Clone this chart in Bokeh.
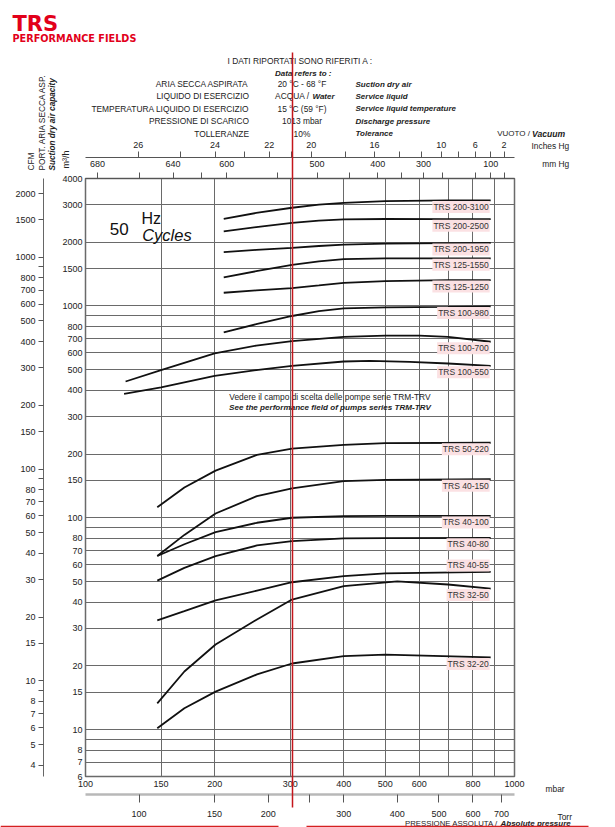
from math import pi
from bokeh.plotting import figure
from bokeh.models import (Range1d, LogScale, LogAxis, FixedTicker,
                          PrintfTickFormatter, CustomJSTickFormatter, Label)
from bokeh.core.properties import value
from bokeh.embed import file_html
from bokeh.resources import INLINE

# ------------------------------------------------------------------ data
# absolute pressure (mbar) sample points
MBAR_A = [210, 250, 303, 350, 400, 500, 700, 880]
MBAR_B = [124, 150, 200, 250, 303, 400, 500, 600, 700, 880]
MBAR_C = [123, 150, 200, 250, 303, 400, 460, 570, 700, 880]
MBAR_D = [147, 170, 201, 251, 303, 400, 500, 880]
MBAR_E = [147, 170, 201, 251, 303, 400, 533, 700, 880]

# suction capacity (m3/h)
trs_200_3100 = [2580, 2750, 2910, 3010, 3070, 3130, 3150, 3150]
trs_200_2500 = [2250, 2360, 2470, 2530, 2565, 2575, 2570, 2570]
trs_200_1950 = [1795, 1840, 1880, 1920, 1950, 1970, 1980, 1985]
trs_125_1550 = [1365, 1460, 1565, 1625, 1665, 1680, 1680, 1680]
trs_125_1250 = [1155, 1185, 1215, 1250, 1285, 1310, 1325, 1325]
trs_100_980 = [750, 820, 897, 945, 975, 985, 990, 995]
trs_100_700 = [440, 498, 597, 650, 683, 715, 725, 725, 715, 678]
trs_100_550 = [385, 413, 468, 498, 522, 547, 551, 545, 535, 522]
trs_50_220 = [112, 139, 167, 198, 212, 221, 225, 226]
trs_40_150 = [66, 83, 104.7, 126.6, 137.7, 149, 151, 152]
trs_40_100 = [66, 75, 85.6, 94.7, 100, 101.9, 102, 102]
trs_40_80 = [50.5, 58, 65.9, 74, 77.6, 79.9, 80.2, 80.4]
trs_40_55 = [32.8, 36.2, 40.7, 45.3, 49.6, 53, 54.6, 55.5]
trs_32_50 = [13.3, 18.8, 25.2, 33.1, 41.1, 47.5, 50.1, 48.4, 46.3]
trs_32_20 = [10.15, 12.6, 15.1, 18.2, 20.5, 22.2, 22.6, 21.9]

CURVE_NAMES = ["TRS 200-3100", "TRS 200-2500", "TRS 200-1950", "TRS 125-1550",
               "TRS 125-1250", "TRS 100-980", "TRS 100-700", "TRS 100-550",
               "TRS 50-220", "TRS 40-150", "TRS 40-100", "TRS 40-80",
               "TRS 40-55", "TRS 32-50", "TRS 32-20"]
CURVE_X = [MBAR_A, MBAR_A, MBAR_A, MBAR_A, MBAR_A, MBAR_A, MBAR_B, MBAR_C,
           MBAR_D, MBAR_D, MBAR_D, MBAR_D, MBAR_D, MBAR_E, MBAR_D]
CURVE_Y = [trs_200_3100, trs_200_2500, trs_200_1950, trs_125_1550, trs_125_1250,
           trs_100_980, trs_100_700, trs_100_550, trs_50_220, trs_40_150,
           trs_40_100, trs_40_80, trs_40_55, trs_32_50, trs_32_20]
LABEL_SIDE = [-1, -1, -1, -1, -1, -1, -1, -1, -1, -1, -1, -1, 1, -1, -1]

# axis ticks
MBAR_TICKS = [100, 150, 200, 300, 400, 500, 600, 800, 1000]
MBAR_GRID = [150, 200, 300, 400, 500, 600, 700, 800, 900]
M3H_TICKS = [4000, 3000, 2000, 1500, 1000, 800, 700, 600, 500, 400, 300, 200, 150,
             100, 80, 70, 60, 50, 40, 30, 20, 15, 10, 8, 7, 6]
M3H_GRID = [3000, 2000, 1500, 1000, 900, 800, 700, 600, 500, 400, 300, 200, 150,
            100, 90, 80, 70, 60, 50, 40, 30, 20, 15, 10, 9, 8, 7]
CFM_TICKS = [2000, 1500, 1000, 800, 700, 600, 500, 400, 300, 200, 150, 100, 80, 70,
             60, 50, 40, 30, 20, 15, 10, 8, 7, 6, 5, 4]
CFM_MINOR = [900, 90, 9]
TORR_TICKS = [100, 150, 200, 300, 400, 500, 600, 700]
TORR_MINOR = [250]
MMHG_TICKS = [680, 640, 600, 500, 400, 300, 100]
MMHG_MINOR = [660, 620, 550, 450, 350, 250, 150, 50]
INHG_TICKS = [26, 24, 22, 20, 16, 10, 6, 2]
INHG_MINOR = [25, 23, 21, 18, 14, 12, 8, 4]

TORR_PER_MBAR = 0.750062
CFM_PER_M3H = 0.588578
ATM_TORR = 760
MM_PER_INCH = 25.4

# ------------------------------------------------------------------ chart
W, H = 615, 827
FL, FR, FT, FB = 85, 514, 178, 776
FONT = "Liberation Sans"
TXT = "#222222"
GRID = "#6a6a6a"

p = figure(width=W, height=H, x_axis_type="log", y_axis_type="log",
           x_range=Range1d(100, 1000), y_range=Range1d(6, 4000),
           output_backend="svg", toolbar_location=None, title=None,
           min_border_left=FL, min_border_right=W - FR,
           min_border_top=FT, min_border_bottom=H - FB)
p.background_fill_color = "white"
p.border_fill_color = "white"
p.outline_line_color = GRID
p.outline_line_width = 1.5

p.extra_x_ranges = {"torr": Range1d(100 * TORR_PER_MBAR, 1000 * TORR_PER_MBAR),
                    "t5": Range1d(500 * TORR_PER_MBAR, 5000 * TORR_PER_MBAR)}
p.extra_x_scales = {"torr": LogScale(), "t5": LogScale()}
p.extra_y_ranges = {"cfm": Range1d(6 * CFM_PER_M3H, 4000 * CFM_PER_M3H)}
p.extra_y_scales = {"cfm": LogScale()}


def style_axis(ax, tick=0, line=None, standoff=3, size="9px"):
    ax.major_tick_out = tick
    ax.minor_tick_out = tick
    ax.major_tick_in = 0
    ax.minor_tick_in = 0
    ax.major_tick_line_color = "#555"
    ax.minor_tick_line_color = "#555"
    ax.axis_line_color = line
    ax.major_label_standoff = standoff
    ax.major_label_text_font = FONT
    ax.major_label_text_font_size = size
    ax.major_label_text_color = TXT


# bottom: mbar
ax = p.xaxis[0]
ax.ticker = FixedTicker(ticks=MBAR_TICKS)
ax.formatter = PrintfTickFormatter(format="%d")
style_axis(ax, tick=0, line=None, standoff=4)
ax.axis_label = " "
ax.axis_label_text_font_size = "2px"
ax.axis_label_standoff = 0
p.xgrid.ticker = FixedTicker(ticks=MBAR_GRID)

# bottom: Torr
torr_ax = LogAxis(x_range_name="torr",
                  ticker=FixedTicker(ticks=TORR_TICKS, minor_ticks=TORR_MINOR),
                  formatter=PrintfTickFormatter(format="%d"))
style_axis(torr_ax, tick=8, line="#b8b8b8", standoff=8)
torr_ax.axis_line_width = 2.5
p.add_layout(torr_ax, "below")

# top: mm Hg vacuum
mm_ax = LogAxis(x_range_name="torr",
                ticker=FixedTicker(ticks=[ATM_TORR - v for v in MMHG_TICKS],
                                   minor_ticks=[ATM_TORR - v for v in MMHG_MINOR]),
                formatter=CustomJSTickFormatter(code="return String(Math.round(760 - tick));"))
style_axis(mm_ax, tick=6, line="#555", standoff=6)
p.add_layout(mm_ax, "above")

# top: inches Hg vacuum (range in units of 0.2 Torr)
in_ax = LogAxis(x_range_name="t5",
                ticker=FixedTicker(ticks=[5 * ATM_TORR - 5 * MM_PER_INCH * v for v in INHG_TICKS],
                                   minor_ticks=[5 * ATM_TORR - 5 * MM_PER_INCH * v for v in INHG_MINOR]),
                formatter=CustomJSTickFormatter(code="return String(Math.round((3800 - tick) / 127));"))
style_axis(in_ax, tick=6, line="#555", standoff=4)
p.add_layout(in_ax, "above")

# left: m3/h
ay = p.yaxis[0]
ay.ticker = FixedTicker(ticks=M3H_TICKS)
ay.formatter = PrintfTickFormatter(format="%d")
style_axis(ay, tick=0, line=None, standoff=3)
ay.axis_label = " "
ay.axis_label_text_font_size = "8px"
ay.axis_label_standoff = 4
p.ygrid.ticker = FixedTicker(ticks=M3H_GRID)

# left: CFM
cfm_ax = LogAxis(y_range_name="cfm",
                 ticker=FixedTicker(ticks=CFM_TICKS, minor_ticks=CFM_MINOR),
                 formatter=PrintfTickFormatter(format="%d"))
style_axis(cfm_ax, tick=5, line="#666", standoff=3)
p.add_layout(cfm_ax, "left")

for g in (p.xgrid[0], p.ygrid[0]):
    g.grid_line_color = GRID
    g.grid_line_width = 1
    g.grid_line_alpha = 1

# curves + names
for name, xs, ys, side in zip(CURVE_NAMES, CURVE_X, CURVE_Y, LABEL_SIDE):
    p.line(xs, ys, line_color="#111111", line_width=1.8)
    p.add_layout(Label(x=xs[-1], y=ys[-1], text=name, text_align="right",
                       text_baseline="middle", x_offset=-1, y_offset=side * 6.5,
                       text_font=FONT, text_font_size="8.5px", text_color="#333",
                       background_fill_color="#fbe1e3", padding=1))

# ------------------------------------------------------------------ text layer
t = figure(width=W, height=H, x_range=Range1d(0, W), y_range=Range1d(0, H),
           x_axis_location=None, y_axis_location=None, min_border=0, title=None,
           output_backend="svg", toolbar_location=None,
           background_fill_color=None, border_fill_color=None, outline_line_color=None,
           styles={"position": "absolute", "left": "0px", "top": "0px"})
t.grid.visible = False


def lab(x, y, text, size="8.4px", style="normal", align="left", baseline="middle",
        color=TXT, angle=0.0, font=FONT):
    t.text(x=[x], y=[H - y], text=[text], text_font=value(font), text_font_size=size,
           text_font_style=style, text_align=align, text_baseline=baseline,
           text_color=color, angle=angle)


RED = "#e2001a"
lab(12, 23, "TRS", size="21px", style="bold", baseline="alphabetic", color=RED,
    font="DejaVu Sans")
lab(12, 37.7, "PERFORMANCE FIELDS", size="9.7px", style="bold", baseline="alphabetic",
    color=RED, font="DejaVu Sans")
lab(227, 60, "I DATI RIPORTATI SONO RIFERITI A :")
lab(274.5, 72.7, "Data refers to :", size="8px", style="bold italic")
rows_y = [83.5, 95.8, 108.3, 120.7, 133]
left_col = ["ARIA SECCA ASPIRATA", "LIQUIDO DI ESERCIZIO",
            "TEMPERATURA LIQUIDO DI ESERCIZIO", "PRESSIONE DI SCARICO", "TOLLERANZE"]
mid_col = ["20 °C - 68 °F", None, "15 °C (59 °F)", "1013 mbar", "10%"]
right_col = ["Suction dry air", "Service liquid", "Service liquid temperature",
             "Discharge pressure", "Tolerance"]
for yy, a, b, c in zip(rows_y, left_col, mid_col, right_col):
    lab(248.5, yy, a, align="right")
    if b is not None:
        lab(301.5, yy, b, align="center")
    lab(355, yy, c, size="8px", style="bold italic")
lab(309, rows_y[1], "ACQUA /", align="right")
lab(312, rows_y[1], "Water", size="8px", style="bold italic")
lab(529.5, 133, "VUOTO /", size="8px", align="right")
lab(531.5, 133, "Vacuum", size="8.6px", style="bold italic")
lab(531, 145, "Inches Hg")
lab(541.7, 163.3, "mm Hg")

# rotated left titles
lab(30, 170, "CFM", size="8.3px", angle=pi / 2)
lab(41.5, 170, "PORT. ARIA SECCA ASP.", size="8.3px", angle=pi / 2)
lab(52, 170, "Suction dry air capacity", size="8.2px", style="bold italic", angle=pi / 2)
lab(65.5, 168, "m³/h", size="9px", angle=pi / 2)

# in-plot texts
lab(109.3, 228.3, "50", size="17px", baseline="alphabetic", color="#111")
lab(141, 218.3, "Hz", size="16px", baseline="alphabetic", color="#111")
lab(141.7, 234, "Cycles", size="16.5px", style="italic", baseline="alphabetic", color="#111")
lab(329.5, 396.7, "Vedere il campo di scelta delle pompe serie TRM-TRV", align="center")
lab(329.5, 406.7, "See the performance field of pumps series TRM-TRV", size="8.1px",
    style="bold italic", align="center")

# bottom texts
lab(545, 788, "mbar")
lab(557, 816.3, "Torr")
lab(497.5, 822.5, "PRESSIONE ASSOLUTA /", size="7.8px", align="right")
lab(500, 822.5, "Absolute pressure", size="8px", style="bold italic")

# red marker lines
t.segment(x0=[292], y0=[H - 52], x1=[292], y1=[H - 807], line_color="#c4161c", line_width=1.5)
t.segment(x0=[0, 306], y0=[H - 826, H - 826], x1=[278, 588], y1=[H - 826, H - 826],
          line_color="#d42020", line_width=1.5)

open("out.html", "w").write(file_html([p, t], INLINE))
